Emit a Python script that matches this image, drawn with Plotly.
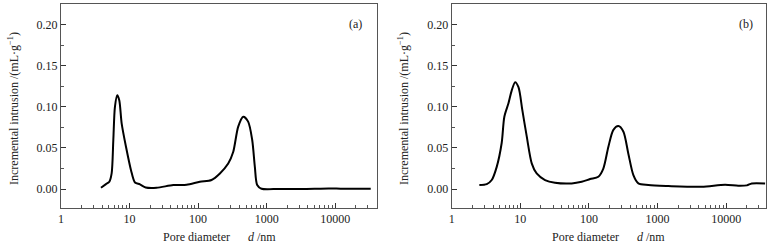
import plotly.graph_objects as go

# Panel (a)
d_a = [3.83, 4.53, 5.07, 5.48, 5.8, 6.12, 6.62, 7.08, 7.67, 8.87, 10.5, 12.0, 14.2, 17.2,
       24.8, 43.4, 68, 106, 157, 208, 275, 325, 385, 455, 537, 615, 673, 728, 842,
       1500, 3000, 5000, 8000, 12000, 20000, 33000]
v_a = [0.0016, 0.006, 0.0089, 0.019, 0.060, 0.100, 0.114, 0.108, 0.080, 0.0515, 0.023, 0.008,
       0.0057, 0.002, 0.0016, 0.0049, 0.0053, 0.0089, 0.011, 0.019, 0.031, 0.045, 0.076,
       0.088, 0.082, 0.060, 0.027, 0.005, 0.0004, 0.0002, 0.0002, 0.0003, 0.0007, 0.0005,
       0.0003, 0.0003]

# Panel (b)
d_b = [2.53, 3.24, 3.83, 4.53, 5.35, 5.85, 6.7, 7.5, 8.4, 9.4, 10.7, 12.4, 14.7, 17.3, 22.9,
       32, 56, 78.5, 104, 137, 162, 192, 227, 268, 317, 375, 444, 525, 735, 1436, 4400,
       9640, 15000, 20000, 23600, 36900]
v_b = [0.0049, 0.006, 0.011, 0.027, 0.056, 0.088, 0.104, 0.120, 0.130, 0.124, 0.096, 0.064,
       0.031, 0.019, 0.011, 0.0077, 0.0069, 0.0089, 0.0122, 0.015, 0.025, 0.0515, 0.072,
       0.0766, 0.070, 0.043, 0.017, 0.0069, 0.0049, 0.0037, 0.0028, 0.0053, 0.004, 0.0045,
       0.0069, 0.0069]

x_ticks = [1, 10, 100, 1000, 10000]
x_ticklabels = ["1", "10", "100", "1000", "10000"]
y_ticks = [0.00, 0.05, 0.10, 0.15, 0.20]
y_ticklabels = ["0.00", "0.05", "0.10", "0.15", "0.20"]
panel_labels = ["(a)", "(b)"]
y_title = "Incremental intrusion /(mL·g<sup>−1</sup>)"
x_title = "Pore diameter\u00a0\u00a0\u00a0\u00a0\u00a0\u00a0<i>d</i> /nm"

W, H = 775, 249
FONT = "Liberation Serif, Times New Roman, serif"

fig = go.Figure()
fig.add_trace(go.Scatter(x=d_a, y=v_a, mode="lines", line=dict(color="black", width=2, shape="spline", smoothing=0.8),
                         xaxis="x", yaxis="y", showlegend=False))
fig.add_trace(go.Scatter(x=d_b, y=v_b, mode="lines", line=dict(color="black", width=2, shape="spline", smoothing=0.8),
                         xaxis="x2", yaxis="y2", showlegend=False))

dom_y = [1 - 208 / H, 1 - 4 / H]
dom_xa = [61 / W, 377 / W]
dom_xb = [451.7 / W, 766 / W]

def xaxis(dom, anchor, rmax):
    return dict(domain=dom, anchor=anchor, type="log", range=[0, rmax],
                tickvals=x_ticks, ticktext=x_ticklabels, ticks="inside", ticklen=5,
                tickcolor="#333", showline=True, linecolor="#555", linewidth=1, mirror=True,
                showgrid=False, zeroline=False,
                minor=dict(ticks="inside", ticklen=3, tickcolor="#555", dtick="D1", showgrid=False),
                tickfont=dict(family=FONT, size=12, color="#222"), automargin=False)

def yaxis(anchor):
    return dict(domain=dom_y, anchor=anchor, range=[-0.023, 0.225],
                tickvals=y_ticks, ticktext=y_ticklabels, ticks="inside", ticklen=5,
                tickcolor="#333", showline=True, linecolor="#555", linewidth=1, mirror=True,
                showgrid=False, zeroline=False,
                minor=dict(ticks="inside", ticklen=3, tickcolor="#555", dtick=0.025, showgrid=False),
                tickfont=dict(family=FONT, size=12, color="#222"), automargin=False)

annotations = []
for i, (dom, lx) in enumerate([(dom_xa, 13), (dom_xb, 403)]):
    cx = (dom[0] + dom[1]) / 2
    annotations.append(dict(text=x_title, x=cx, y=1 - 237 / H, xref="paper", yref="paper",
                            showarrow=False, font=dict(family=FONT, size=12, color="#222"),
                            xanchor="center", yanchor="middle"))
    annotations.append(dict(text=y_title, x=lx / W, y=1 - 109 / H, xref="paper", yref="paper",
                            showarrow=False, textangle=-90, font=dict(family=FONT, size=12, color="#222"),
                            xanchor="center", yanchor="middle"))
annotations.append(dict(text=panel_labels[0], x=355 / W, y=1 - 24 / H, xref="paper", yref="paper",
                        showarrow=False, xanchor="center", yanchor="middle",
                        font=dict(family=FONT, size=12, color="#222")))
annotations.append(dict(text=panel_labels[1], x=746 / W, y=1 - 24 / H, xref="paper", yref="paper",
                        showarrow=False, xanchor="center", yanchor="middle",
                        font=dict(family=FONT, size=12, color="#222")))

fig.update_layout(
    width=W, height=H, margin=dict(l=0, r=0, t=0, b=0),
    paper_bgcolor="white", plot_bgcolor="white",
    xaxis=xaxis(dom_xa, "y", 4.61), yaxis=yaxis("x"),
    xaxis2=xaxis(dom_xb, "y2", 4.58), yaxis2=yaxis("x2"),
    annotations=annotations,
)

fig.write_html("out.html", config={"displayModeBar": False},
               post_script="document.body.style.margin='0';document.body.style.overflow='hidden';")
